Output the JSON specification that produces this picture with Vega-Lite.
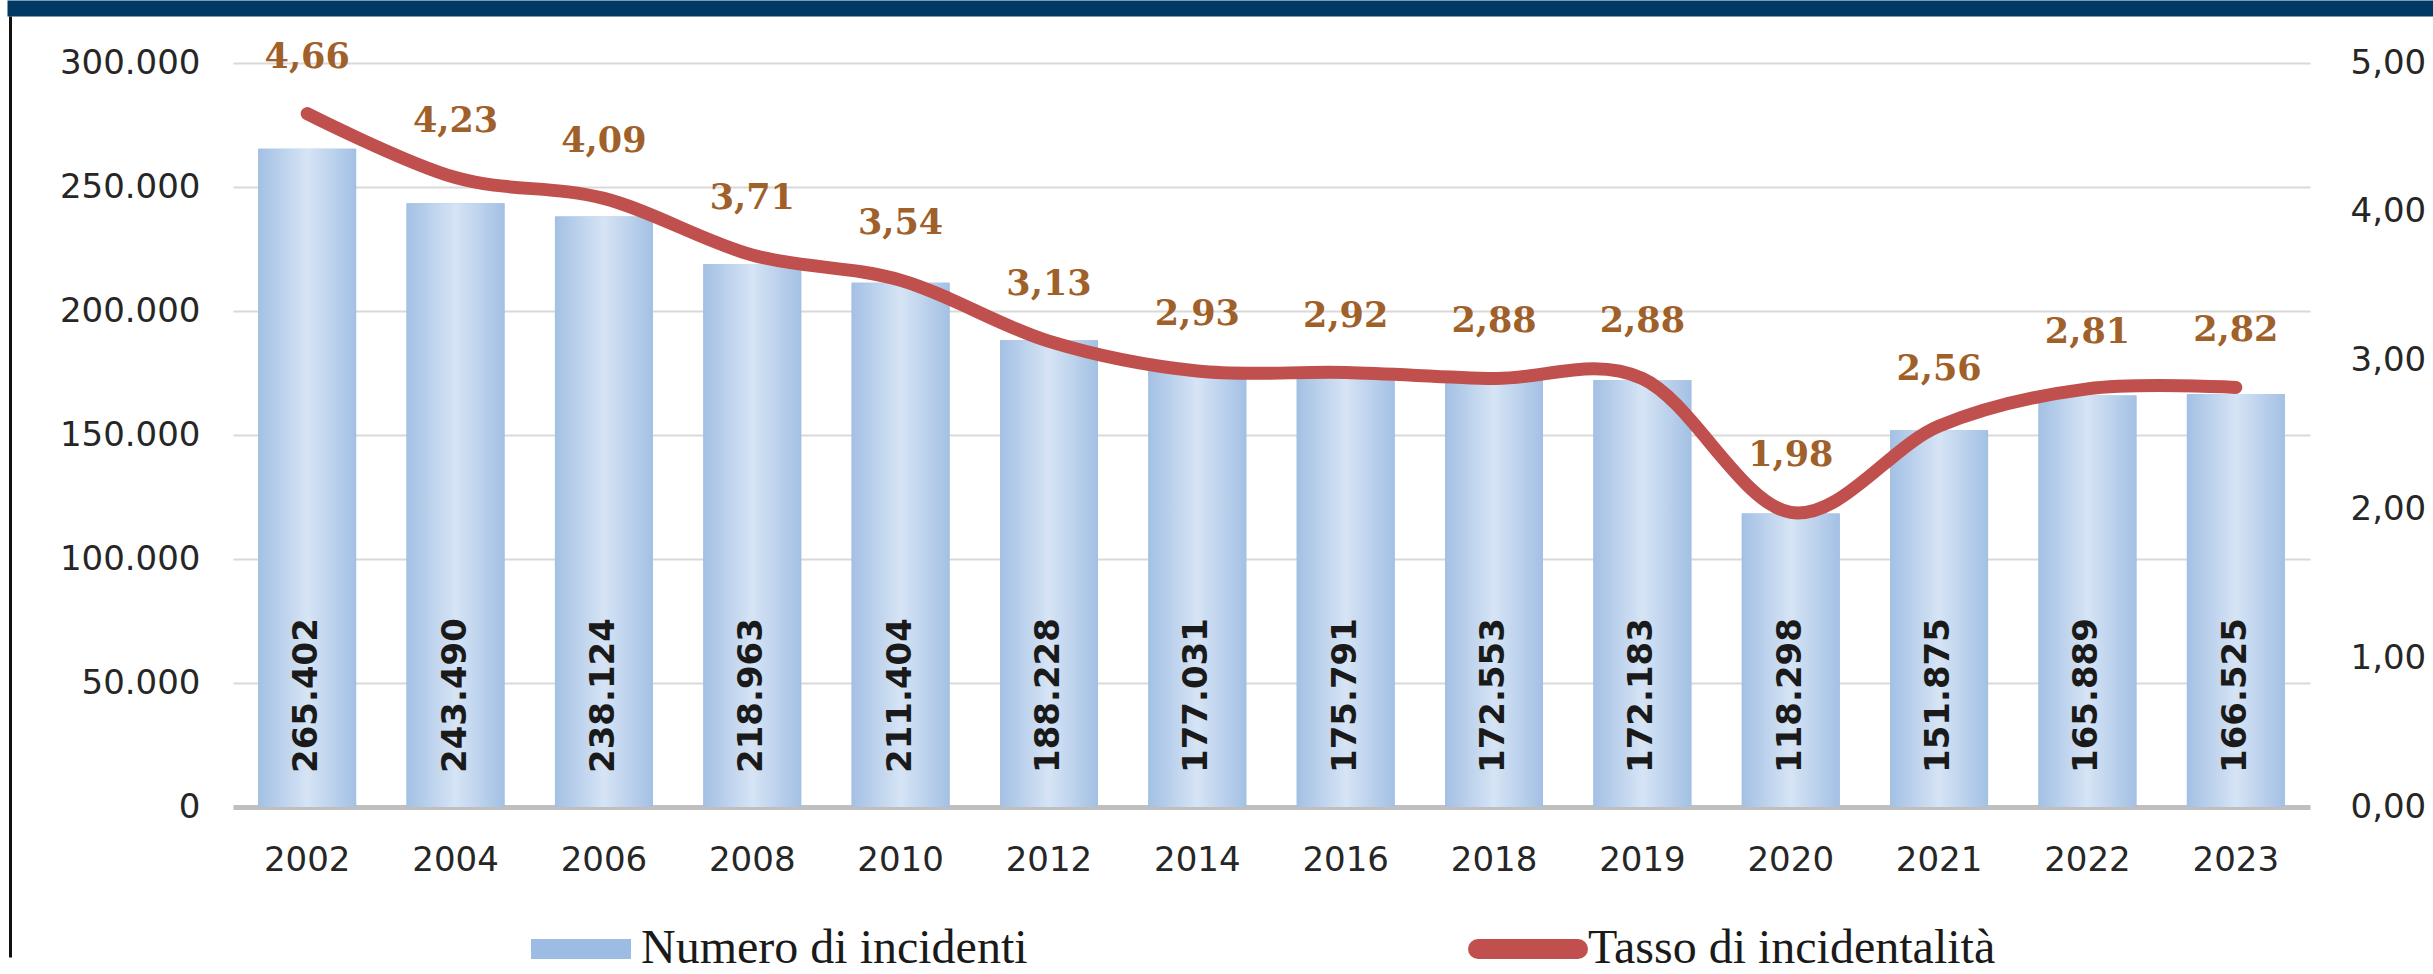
{
  "$schema": "https://vega.github.io/schema/vega-lite/v6.json",
  "autosize": {"type": "none"},
  "width": 2077,
  "height": 744,
  "padding": {"left": 233, "top": 63, "right": 123, "bottom": 167},
  "background": "#ffffff",
  "config": {
    "locale": {"number": {"decimal": ",", "thousands": ".", "grouping": [3], "currency": ["€", ""]}},
    "view": {"stroke": null},
    "scale": {"bandPaddingInner": 0.34, "bandPaddingOuter": 0.17},
    "axis": {"labelFont": "DejaVu Sans", "labelFontSize": 34, "labelColor": "#262626", "ticks": false, "title": null}
  },
  "data": {
    "values": [
      {"anno": "2002", "incidenti": 265402, "tasso": 4.66},
      {"anno": "2004", "incidenti": 243490, "tasso": 4.23},
      {"anno": "2006", "incidenti": 238124, "tasso": 4.09},
      {"anno": "2008", "incidenti": 218963, "tasso": 3.71},
      {"anno": "2010", "incidenti": 211404, "tasso": 3.54},
      {"anno": "2012", "incidenti": 188228, "tasso": 3.13},
      {"anno": "2014", "incidenti": 177031, "tasso": 2.93},
      {"anno": "2016", "incidenti": 175791, "tasso": 2.92},
      {"anno": "2018", "incidenti": 172553, "tasso": 2.88},
      {"anno": "2019", "incidenti": 172183, "tasso": 2.88},
      {"anno": "2020", "incidenti": 118298, "tasso": 1.98},
      {"anno": "2021", "incidenti": 151875, "tasso": 2.56},
      {"anno": "2022", "incidenti": 165889, "tasso": 2.81},
      {"anno": "2023", "incidenti": 166525, "tasso": 2.82}
    ]
  },
  "layer": [
    {
      "layer": [
        {
          "mark": {"type": "bar"},
          "encoding": {
            "x": {"field": "anno", "type": "ordinal", "sort": null,
              "axis": {"orient": "bottom", "labelAngle": 0, "labelPadding": 36, "domainColor": "#BFBFBF", "domainWidth": 5, "grid": false}},
            "y": {"field": "incidenti", "type": "quantitative", "scale": {"domain": [0, 300000], "nice": false},
              "axis": {"orient": "left", "values": [0, 50000, 100000, 150000, 200000, 250000, 300000], "format": ",.0f", "labelPadding": 33, "domain": false, "grid": true, "gridColor": "#D9D9D9", "gridWidth": 2}},
            "color": {"datum": "Numero di incidenti", "type": "nominal",
              "scale": {"domain": ["Numero di incidenti", "Tasso di incidentalità"], "range": ["#9DBCE3", "#C0504D"]},
              "legend": {"orient": "none", "legendX": 288, "legendY": 826, "direction": "horizontal", "columns": 2, "columnPadding": 410,
                "title": null, "padding": 0, "symbolType": "stroke", "symbolSize": 10000, "symbolStrokeWidth": 20,
                "labelFont": "Liberation Serif", "labelFontSize": 48, "labelColor": "#1a1a1a", "labelOffset": 0, "labelLimit": 1000, "labelBaseline": "middle",
                "encode": {"symbols": {"update": {
                  "stroke": {"scale": "color", "field": "value"},
                  "fill": {"value": "transparent"},
                  "strokeWidth": {"value": 20},
                  "opacity": {"value": 1},
                  "strokeCap": {"signal": "datum.value === 'Tasso di incidentalità' ? 'round' : 'butt'"}
                }}}}}
          }
        },
        {
          "mark": {"type": "bar", "color": {"gradient": "linear", "x1": 0, "y1": 0, "x2": 1, "y2": 0,
            "stops": [{"offset": 0, "color": "#A3C0E4"}, {"offset": 0.5, "color": "#D6E4F5"}, {"offset": 1, "color": "#A3C0E4"}]}},
          "encoding": {
            "x": {"field": "anno", "type": "ordinal", "sort": null},
            "y": {"field": "incidenti", "type": "quantitative"}
          }
        },
        {
          "mark": {"type": "text", "angle": 270, "align": "left", "baseline": "middle", "dx": 34, "font": "DejaVu Sans", "fontWeight": "bold", "fontSize": 34, "color": "#1a1a1a"},
          "encoding": {
            "x": {"field": "anno", "type": "ordinal", "sort": null},
            "y": {"datum": 0, "type": "quantitative"},
            "text": {"field": "incidenti", "type": "quantitative", "format": ",d"}
          }
        }
      ]
    },
    {
      "layer": [
        {
          "mark": {"type": "line", "interpolate": "cardinal", "strokeWidth": 13, "strokeCap": "round", "strokeJoin": "round"},
          "encoding": {
            "x": {"field": "anno", "type": "ordinal", "sort": null, "axis": null},
            "y": {"field": "tasso", "type": "quantitative", "scale": {"domain": [0, 5], "nice": false},
              "axis": {"orient": "right", "values": [0, 1, 2, 3, 4, 5], "format": ".2f", "labelPadding": 40, "domain": false, "grid": false}},
            "color": {"datum": "Tasso di incidentalità", "type": "nominal"}
          }
        },
        {
          "mark": {"type": "text", "baseline": "middle", "dy": -57, "font": "DejaVu Serif", "fontWeight": "bold", "fontSize": 35, "color": "#A0602A"},
          "encoding": {
            "x": {"field": "anno", "type": "ordinal", "sort": null},
            "y": {"field": "tasso", "type": "quantitative"},
            "text": {"field": "tasso", "type": "quantitative", "format": ".2f"}
          }
        }
      ]
    },
    {
      "mark": {"type": "point", "opacity": 0},
      "encoding": {
        "x": {"field": "anno", "type": "ordinal", "sort": null, "scale": {"type": "point", "range": [-226, 2200]},
          "axis": {"orient": "top", "offset": 55, "labels": false, "grid": false, "domainColor": "#023864", "domainWidth": 16}},
        "y": {"field": "tasso", "type": "quantitative", "scale": {"domain": [0, 5], "nice": false, "range": [894, -47]},
          "axis": {"orient": "left", "offset": 223, "labels": false, "grid": false, "domainColor": "#111111", "domainWidth": 3}}
      }
    }
  ],
  "resolve": {
    "scale": {"x": "independent", "y": "independent"},
    "axis": {"x": "independent", "y": "independent"}
  }
}
